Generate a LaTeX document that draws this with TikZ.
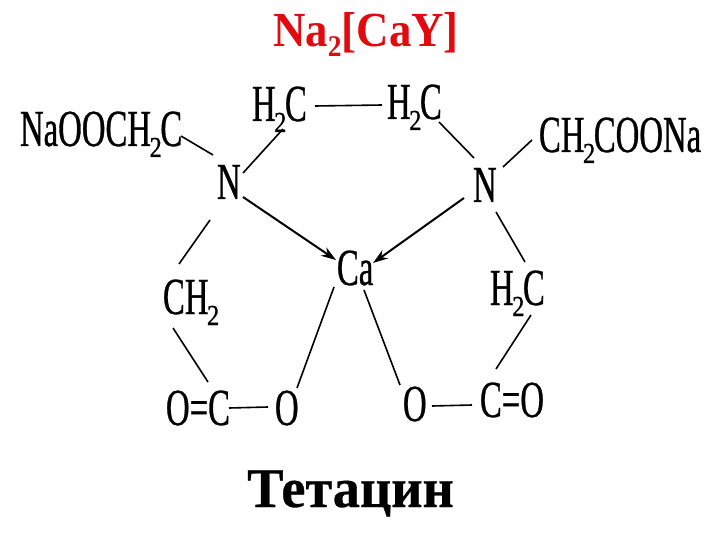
\documentclass[tikz,border=0pt]{standalone}
\usepackage{fontspec}
\usetikzlibrary{arrows.meta}
\setmainfont{Liberation Serif}
\newfontfamily\chemfont[FakeStretch=0.63,FakeBold=0.6]{Liberation Serif}
\newfontfamily\titlefont[FakeStretch=0.915]{Liberation Serif Bold}
\newfontfamily\tetfont[FakeStretch=0.97,FakeBold=0.5]{Liberation Serif Bold}
\newcommand{\subtwo}{\kern-1.5pt\raisebox{-11pt}{\scalebox{1.35}[1]{\fontsize{29}{29}\selectfont 2}}\kern-1.5pt}
\newcommand{\titlesub}{\raisebox{-10pt}{\fontsize{30}{30}\selectfont 2}}
\tikzset{
  chem/.style={anchor=base west,inner sep=0pt,outer sep=0pt,text=black,font=\fontsize{52}{52}\selectfont\chemfont},
  bond/.style={draw=black,line width=1.6pt},
  dative/.style={bond,line width=2pt,-{Stealth[length=15pt,width=10pt]}},
}
\begin{document}
\begin{tikzpicture}[x=1pt,y=-1pt]
\useasboundingbox (0,0) rectangle (720,540);
\fill[white] (0,0) rectangle (720,540);
\node[anchor=base west,inner sep=0pt,text={rgb,255:red,225;green,10;blue,15},font=\fontsize{49}{49}\selectfont\titlefont] (title) at (273,47) {Na\titlesub[CaY]};
\node[anchor=base west,inner sep=0pt,font=\fontsize{56}{56}\selectfont\tetfont] (tet) at (247,507) {Тетацин};
\node[chem] (nao) at (20,146) {NaOOCH\subtwo C};
\node[chem] (hl) at (252,121) {H\subtwo C};
\node[chem] (hr) at (387,119) {H\subtwo C};
\node[chem] (nl) at (217,199) {N};
\node[chem] (nr) at (473,202) {N};
\node[chem] (coona) at (539,152) {CH\subtwo COONa};
\node[chem] (ca) at (337,285) {Ca};
\node[chem] (hlow) at (490,305) {H\subtwo C};
\node[chem] (chl) at (163,314) {CH\subtwo};
\node[chem] (oc) at (166,425) {O=C};
\node[chem] (ol) at (275,425) {O};
\node[chem] (orr) at (403,421) {O};
\node[chem] (co) at (480,417) {C=O};
\draw[bond] ([shift={(161,-10)}]nao.base west) -- ([shift={(-4,-44)}]nl.base west);
\draw[bond] ([shift={(31,8)}]hl.base west) -- ([shift={(26,-26)}]nl.base west);
\draw[dative] ([shift={(26,-2)}]nl.base west) -- ([shift={(-1,-25)}]ca.base west);
\draw[bond] ([shift={(-7,21)}]nl.base west) -- ([shift={(16,-50)}]chl.base west);
\draw[bond] ([shift={(63,-15)}]hl.base west) -- ([shift={(-5,-14)}]hr.base west);
\draw[bond] ([shift={(52,3)}]hr.base west) -- ([shift={(1,-44)}]nr.base west);
\draw[bond] ([shift={(30,-35)}]nr.base west) -- ([shift={(-7,-12)}]coona.base west);
\draw[dative] ([shift={(-9,-4)}]nr.base west) -- ([shift={(36,-22)}]ca.base west);
\draw[bond] ([shift={(23,10)}]nr.base west) -- ([shift={(35,-43)}]hlow.base west);
\draw[bond] ([shift={(-3,2)}]ca.base west) -- ([shift={(22,-37)}]ol.base west);
\draw[bond] ([shift={(27,5)}]ca.base west) -- ([shift={(-3,-36)}]orr.base west);
\draw[bond] ([shift={(10,14)}]chl.base west) -- ([shift={(42,-43)}]oc.base west);
\draw[bond] ([shift={(41,10)}]hlow.base west) -- ([shift={(16,-48)}]co.base west);
\draw[bond] ([shift={(63,-17)}]oc.base west) -- ([shift={(-7,-18)}]ol.base west);
\draw[bond] ([shift={(29,-15)}]orr.base west) -- ([shift={(-8,-12)}]co.base west);
\end{tikzpicture}
\end{document}
